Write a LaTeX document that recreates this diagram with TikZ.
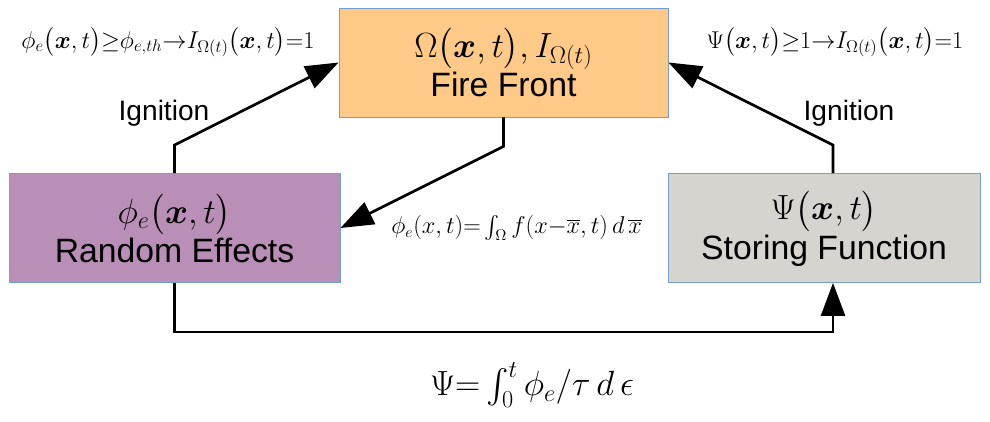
\documentclass[tikz,border=0pt]{standalone}
\usepackage{amsmath, amssymb}
\usepackage{fontspec}
\setmainfont{Liberation Sans}
\usepackage{tikz}
\usetikzlibrary{arrows.meta, positioning}

\definecolor{frontorange}{RGB}{255,201,135}
\definecolor{randpurple}{RGB}{186,143,183}
\definecolor{storegray}{RGB}{215,211,206}
\definecolor{boxblue}{RGB}{114,159,207}

\begin{document}
\begin{tikzpicture}[>={Triangle[length=0.825cm, width=0.6cm]}]
    \tikzset{
        block/.style={draw=boxblue, line width=0.6pt, minimum height=2.725cm,
            align=center, inner sep=0pt, font=\fontsize{24}{28}\selectfont},
        flow/.style={->, line width=1.9pt},
        lbl/.style={font=\fontsize{20}{24}\selectfont},
        cond/.style={font=\fontsize{17}{20}\selectfont}
    }
    \useasboundingbox (0,0) rectangle (24.75,10.525);

    % =================================================================
    % CAC KHOI
    % =================================================================
    \node[block, fill=frontorange, minimum width=8.225cm] (fire) at (12.5875,8.9625)
        {$\Omega\big(\boldsymbol{x},t\big), I_{\Omega(t)}$\\Fire Front};
    \node[block, fill=randpurple, minimum width=8.275cm] (rand) at (4.3625,4.825)
        {$\phi_e\big(\boldsymbol{x},t\big)$\\Random Effects};
    \node[block, fill=storegray, minimum width=7.8cm] (stor) at (20.6,4.825)
        {$\Psi\big(\boldsymbol{x},t\big)$\\Storing Function};

    % =================================================================
    % CAC MUI TEN
    % =================================================================
    \coordinate (storTop) at ([xshift=0.225cm]stor.north);
    \coordinate (storBot) at ([xshift=0.225cm]stor.south);

    \draw[flow] (rand.north) -- ++(0,0.7) -- (fire.west);
    \draw[flow] (storTop) -- ++(0,0.7) -- (fire.east);
    \draw[flow] (fire.south) -- ++(0,-0.725) -- (rand.east);
    \draw[flow] (rand.south) -- ++(0,-1.225) -| (storBot);

    % =================================================================
    % NHAN VA CONG THUC
    % =================================================================
    \node[lbl] (ignL) at (4.1,7.7) {Ignition};
    \node[lbl] (ignR) at (21.225,7.7) {Ignition};

    \node[cond] (condL) at (4.2,9.475)
        {$\phi_e\big(\boldsymbol{x},t\big){\geq}\phi_{e,th}{\rightarrow}I_{\Omega(t)}\big(\boldsymbol{x},t\big){=}1$};
    \node[cond] (condR) at (20.875,9.475)
        {$\Psi\big(\boldsymbol{x},t\big){\geq}1{\rightarrow}I_{\Omega(t)}\big(\boldsymbol{x},t\big){=}1$};
    \node[font=\fontsize{16}{19}\selectfont, anchor=west] (conv) at ([xshift=1.15cm]rand.east)
        {$\phi_e(x,t){=}\int_\Omega f(x{-}\overline{x},t)\,d\,\overline{x}$};
    \node[font=\fontsize{24}{28}\selectfont] (store) at (13.3,0.9)
        {$\Psi{=}\int_0^t \phi_e/\tau\,d\,\epsilon$};

\end{tikzpicture}
\end{document}
